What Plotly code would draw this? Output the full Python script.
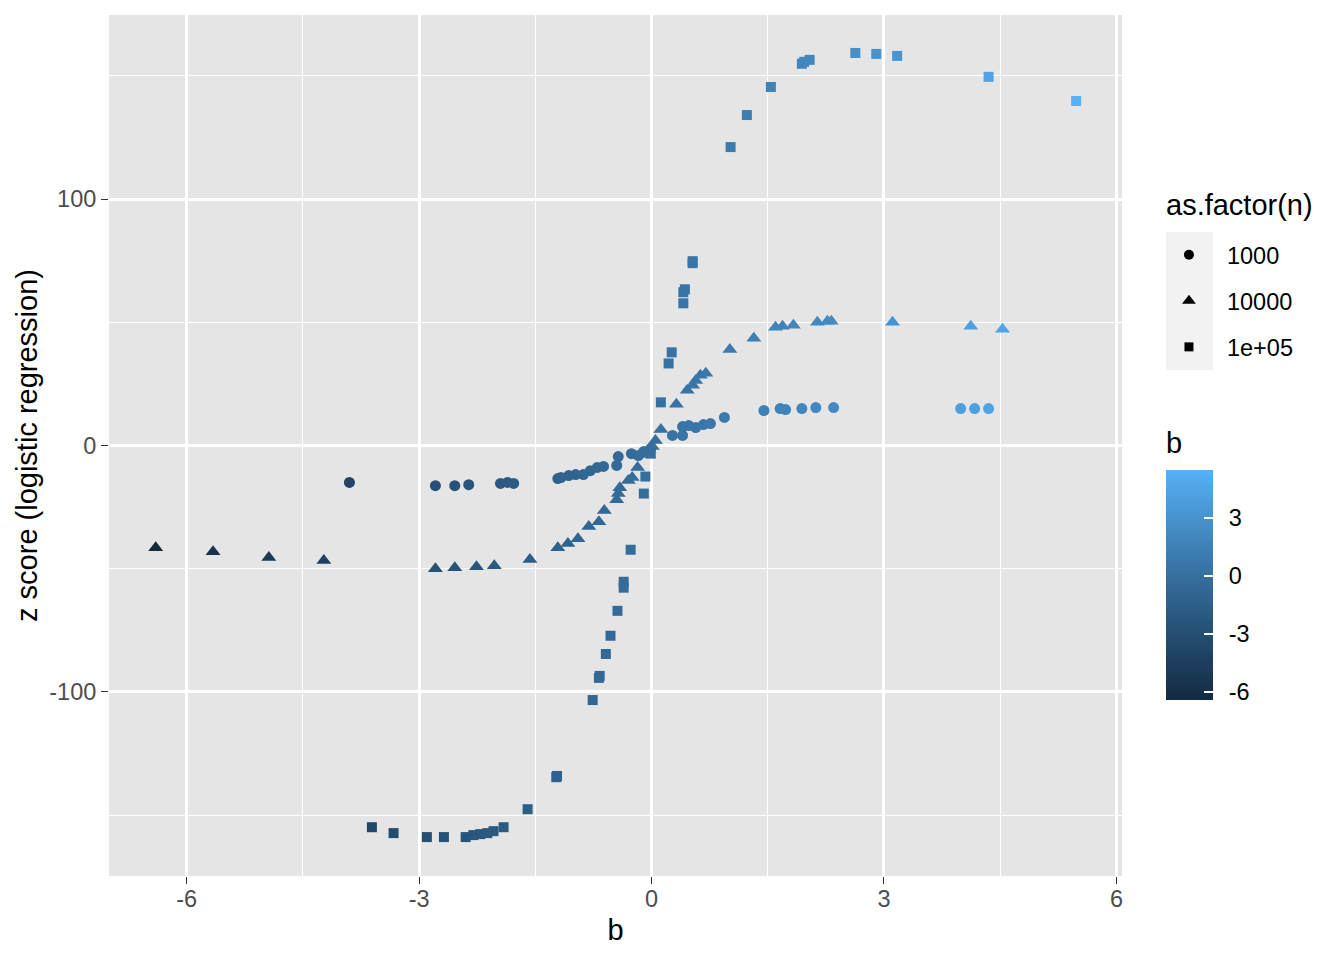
import plotly.graph_objects as go

# estimated values
b_1000 = [-3.90, -2.79, -2.54, -2.36, -1.95, -1.86, -1.78, -1.21, -1.17, -1.07,
          -0.98, -0.88, -0.79, -0.70, -0.62, -0.45, -0.43, -0.26, -0.17, -0.10,
          -0.01, 0.27, 0.40, 0.40, 0.48, 0.57, 0.67, 0.76, 0.94, 1.45,
          1.66, 1.73, 1.94, 2.12, 2.35, 3.99, 4.17, 4.35]
z_1000 = [-15.0, -16.3, -16.3, -15.9, -15.4, -15.0, -15.4, -13.4, -13.0, -12.2,
          -11.8, -11.8, -10.2, -8.9, -8.5, -8.1, -4.5, -3.3, -4.1, -2.4,
          -1.2, 4.1, 4.1, 7.7, 8.1, 7.3, 8.5, 8.9, 11.4, 14.2,
          15.0, 14.6, 15.0, 15.4, 15.4, 15.0, 15.0, 15.0]

b_10000 = [-6.40, -5.66, -4.94, -4.23, -2.79, -2.54, -2.26, -2.03, -1.57, -1.21,
           -1.08, -0.95, -0.81, -0.68, -0.61, -0.45, -0.43, -0.41, -0.30, -0.25,
           -0.18, -0.04, 0.01, 0.05, 0.12, 0.32, 0.46, 0.53, 0.57, 0.63,
           0.70, 1.01, 1.32, 1.60, 1.69, 1.83, 2.14, 2.27, 2.32, 3.11,
           4.12, 4.53]
z_10000 = [-41.5, -43.1, -45.5, -46.7, -50.0, -49.6, -49.2, -48.8, -46.3, -41.5,
           -39.8, -37.8, -32.9, -30.9, -26.4, -22.0, -19.5, -17.1, -14.2, -13.0,
           -8.9, -3.7, -0.4, 2.0, 6.5, 16.7, 22.4, 24.4, 26.4, 28.5,
           29.3, 39.0, 43.5, 48.0, 48.4, 48.8, 50.0, 50.4, 50.4, 50.0,
           48.4, 47.2]

b_100000 = [-3.61, -3.33, -2.90, -2.68, -2.40, -2.30, -2.21, -2.12, -2.04, -1.91,
            -1.60, -1.23, -1.22, -0.76, -0.68, -0.67, -0.59, -0.53, -0.44, -0.36,
            -0.36, -0.27, -0.10, -0.08, -0.01, 0.12, 0.22, 0.26, 0.41, 0.41,
            0.43, 0.53, 0.53, 1.02, 1.23, 1.54, 1.94, 1.97, 2.04, 2.63,
            2.90, 3.17, 4.35, 5.48]
z_100000 = [-154.9, -157.3, -158.9, -158.9, -158.9, -158.1, -157.7, -157.3, -156.5, -154.9,
            -147.6, -134.6, -134.1, -103.3, -94.3, -93.5, -84.6, -77.2, -67.1, -57.7,
            -55.3, -42.3, -19.5, -12.6, -3.3, 17.5, 33.3, 37.8, 57.7, 62.2,
            63.4, 74.0, 74.8, 121.1, 134.1, 145.5, 154.9, 155.7, 156.5, 159.3,
            158.9, 158.1, 149.6, 139.8]

n_labels = ["1000", "10000", "1e+05"]
x_ticks = [-6, -3, 0, 3, 6]
y_ticks = [-100, 0, 100]
cbar_ticks = [-6, -3, 0, 3]


# ggplot's default gradient is interpolated in Lab space
def hex_to_lab(h):
    rgb = [int(h[i:i + 2], 16) / 255 for i in (1, 3, 5)]
    lin = [c / 12.92 if c <= 0.04045 else ((c + 0.055) / 1.055) ** 2.4 for c in rgb]
    x = (0.4124 * lin[0] + 0.3576 * lin[1] + 0.1805 * lin[2]) / 0.95047
    y = 0.2126 * lin[0] + 0.7152 * lin[1] + 0.0722 * lin[2]
    z = (0.0193 * lin[0] + 0.1192 * lin[1] + 0.9505 * lin[2]) / 1.08883
    f = [t ** (1 / 3) if t > 0.008856 else 7.787 * t + 16 / 116 for t in (x, y, z)]
    return [116 * f[1] - 16, 500 * (f[0] - f[1]), 200 * (f[1] - f[2])]


def lab_to_hex(lab):
    fy = (lab[0] + 16) / 116
    fx = fy + lab[1] / 500
    fz = fy - lab[2] / 200
    xyz = [t ** 3 if t ** 3 > 0.008856 else (t - 16 / 116) / 7.787 for t in (fx, fy, fz)]
    x, y, z = xyz[0] * 0.95047, xyz[1], xyz[2] * 1.08883
    lin = [3.2406 * x - 1.5372 * y - 0.4986 * z,
           -0.9689 * x + 1.8758 * y + 0.0415 * z,
           0.0557 * x - 0.2040 * y + 1.0570 * z]
    out = []
    for c in lin:
        c = 12.92 * c if c <= 0.0031308 else 1.055 * c ** (1 / 2.4) - 0.055
        out.append(max(0, min(255, round(c * 255))))
    return "#%02x%02x%02x" % tuple(out)


lo, hi = hex_to_lab("#132B43"), hex_to_lab("#56B1F7")
colorscale = []
for i in range(11):
    t = i / 10
    colorscale.append([t, lab_to_hex([lo[k] + (hi[k] - lo[k]) * t for k in range(3)])])

fig = go.Figure()

series = [
    (b_1000, z_1000, "circle", 11, 10),
    (b_10000, z_10000, "triangle-up", 13, 12),
    (b_100000, z_100000, "square", 10, 9),
]
for (bx, zy, sym, size, key_size), name in zip(series, n_labels):
    fig.add_trace(go.Scatter(
        x=bx, y=zy, mode="markers", showlegend=False,
        marker=dict(symbol=sym, size=size, color=bx, coloraxis="coloraxis"),
    ))
    # black key for the shape legend
    fig.add_trace(go.Scatter(
        x=[None], y=[None], mode="markers", name=name, legendgroup=name,
        marker=dict(symbol=sym, size=key_size, color="black"),
    ))

font = "Liberation Sans, Arial, Helvetica, sans-serif"
axis_style = dict(
    showgrid=True, gridcolor="white", gridwidth=2.7,
    zeroline=False, showline=False,
    ticks="outside", ticklen=7, tickwidth=1.4, tickcolor="#333333",
    tickfont=dict(size=23.5, color="#4D4D4D", family=font),
    title_font=dict(size=29, color="black", family=font),
)

# white tick marks on the left edge of the colour bar (ggplot draws both sides)
all_b = b_1000 + b_10000 + b_100000
cmin, cmax = min(all_b), max(all_b)
bar_top, bar_len, plot_bottom, plot_h = 470, 230, 876, 861
cbar_left, cbar_right = 1.0434, 1.0898
shapes = [
    dict(type="rect", xref="paper", yref="paper",
         x0=cbar_left, x1=cbar_right, y0=0.5877, y1=0.748,
         fillcolor="#F2F2F2", line=dict(width=0), layer="below"),
]
for v in cbar_ticks:
    py = bar_top + (cmax - v) / (cmax - cmin) * bar_len
    yp = (plot_bottom - py) / plot_h
    shapes.append(dict(type="line", xref="paper", yref="paper",
                       x0=cbar_left, x1=cbar_left + 9 / 1013, y0=yp, y1=yp,
                       line=dict(color="white", width=1.5)))

fig.update_layout(
    width=1336,
    height=952,
    paper_bgcolor="white",
    plot_bgcolor="#E5E5E5",
    margin=dict(l=101, r=222, t=7, b=84),
    font=dict(family=font, color="black"),
    xaxis=dict(
        axis_style, range=[-7.003, 6.072], tickvals=x_ticks,
        ticktext=[str(v) for v in x_ticks], ticklabelstandoff=-5,
        title=dict(text="b", standoff=8),
        minor=dict(showgrid=True, gridcolor="white", gridwidth=1.3, dtick=1.5, tick0=0),
    ),
    yaxis=dict(
        axis_style, range=[-174.7, 174.7], tickvals=y_ticks,
        ticktext=[str(v) for v in y_ticks],
        title=dict(text="z score (logistic regression)", standoff=3),
        minor=dict(showgrid=True, gridcolor="white", gridwidth=1.3, dtick=50, tick0=0),
    ),
    coloraxis=dict(
        colorscale=colorscale, cmin=cmin, cmax=cmax,
        colorbar=dict(
            thickness=47, len=bar_len, lenmode="pixels",
            x=cbar_left, xanchor="left", y=(plot_bottom - bar_top) / plot_h, yanchor="top",
            outlinewidth=0, xpad=0, ypad=0,
            tickvals=cbar_ticks, ticktext=["\u00a0\u2006" + str(v) for v in cbar_ticks],
            ticks="inside", ticklen=9, tickcolor="white", tickwidth=1.5,
            tickfont=dict(size=23.5, color="black", family=font),
            title=dict(text=""),
        ),
    ),
    legend=dict(
        x=cbar_left - 15 / 1013, xanchor="left", y=0.7468, yanchor="top",
        bgcolor="rgba(0,0,0,0)",
        font=dict(size=23.5, color="black", family=font),
        tracegroupgap=12.5,
        itemwidth=66,
    ),
    shapes=shapes,
    annotations=[
        dict(text="as.factor(n)", xref="paper", yref="paper", x=cbar_left, y=0.7793,
             xanchor="left", yanchor="middle", showarrow=False, xshift=-2,
             font=dict(size=29, color="black", family=font)),
        dict(text="b", xref="paper", yref="paper", x=cbar_left, y=0.5029,
             xanchor="left", yanchor="middle", showarrow=False, xshift=-2,
             font=dict(size=29, color="black", family=font)),
    ],
)

fig.write_html("out.html")
